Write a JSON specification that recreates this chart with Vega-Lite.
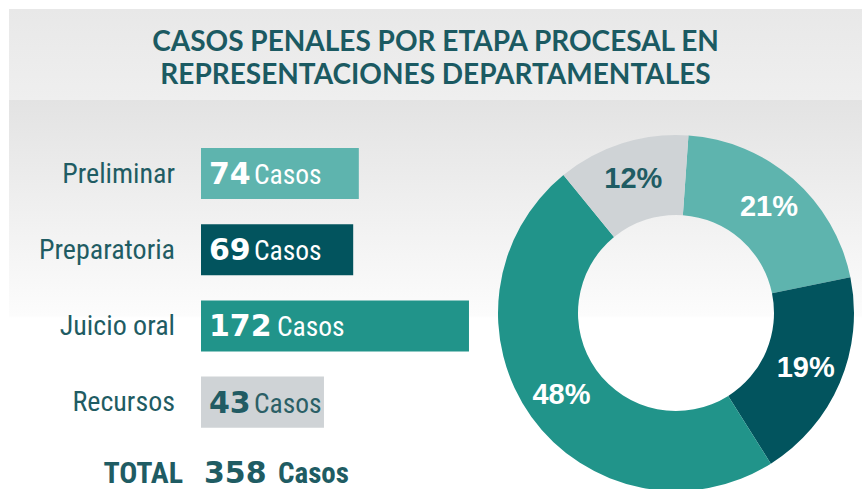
{
  "$schema": "https://vega.github.io/schema/vega-lite/v6.json",
  "padding": {"left": 9, "top": 9, "right": 0, "bottom": 0},
  "background": "white",
  "spacing": 0,
  "config": {"view": {"stroke": null}, "concat": {"spacing": 0}},
  "datasets": {
    "etapas": [
      {"etapa": "Preliminar", "casos": 74, "porcentaje": 0.21, "orden": 1},
      {"etapa": "Preparatoria", "casos": 69, "porcentaje": 0.19, "orden": 2},
      {"etapa": "Juicio oral", "casos": 172, "porcentaje": 0.48, "orden": 3},
      {"etapa": "Recursos", "casos": 43, "porcentaje": 0.12, "orden": 4}
    ],
    "total": [{"etiqueta": "TOTAL", "casos": 358}],
    "titulo": [
      {"linea": 1, "texto": "CASOS PENALES POR ETAPA PROCESAL EN"},
      {"linea": 2, "texto": "REPRESENTACIONES DEPARTAMENTALES"}
    ]
  },
  "vconcat": [
    {
      "width": 853,
      "height": 91,
      "view": {"stroke": null, "fill": {"gradient": "linear", "x1": 0, "y1": 0, "x2": 0, "y2": 1, "stops": [{"offset": 0, "color": "#e8e8e8"}, {"offset": 1, "color": "#efefef"}]}},
      "data": {"name": "titulo"},
      "mark": {"type": "text", "font": "Lato", "fontWeight": "bold", "fontSize": 28, "color": "#1b5a62", "baseline": "alphabetic", "dy": 13},
      "encoding": {
        "y": {"field": "linea", "type": "ordinal", "scale": {"type": "point", "padding": 0.879}, "axis": null},
        "text": {"field": "texto"}
      }
    },
    {
      "spacing": 0,
      "hconcat": [
        {
          "width": 192,
          "height": 389,
          "view": {"stroke": null, "fill": {"gradient": "linear", "x1": 0, "y1": 0, "x2": 0, "y2": 1, "stops": [{"offset": 0, "color": "#e3e3e3"}, {"offset": 0.555, "color": "#fcfcfc"}, {"offset": 0.56, "color": "#ffffff"}, {"offset": 1, "color": "#ffffff"}]}},
          "layer": [
            {
              "data": {"name": "etapas"},
              "mark": {"type": "text", "align": "right", "baseline": "alphabetic", "dx": -26, "dy": 9, "font": "Roboto Condensed", "fontSize": 28, "color": "#1f5c63"},
              "encoding": {
                "y": {"field": "etapa", "type": "nominal", "sort": ["Preliminar", "Preparatoria", "Juicio oral", "Recursos"], "scale": {"type": "band", "paddingInner": 0.33, "paddingOuter": 0.7175, "align": 0.439}, "axis": null},
                "x": {"value": "width"},
                "text": {"field": "etapa"}
              }
            },
            {
              "data": {"name": "total"},
              "mark": {"type": "text", "align": "right", "baseline": "alphabetic", "dx": -18, "dy": -6, "font": "Roboto Condensed", "fontWeight": "bold", "fontSize": 30, "color": "#1f5c63"},
              "encoding": {
                "x": {"value": "width"},
                "y": {"value": "height"},
                "text": {"field": "etiqueta"}
              }
            }
          ]
        },
        {
          "width": 289,
          "height": 389,
          "view": {"stroke": null, "fill": {"gradient": "linear", "x1": 0, "y1": 0, "x2": 0, "y2": 1, "stops": [{"offset": 0, "color": "#e3e3e3"}, {"offset": 0.555, "color": "#fcfcfc"}, {"offset": 0.56, "color": "#ffffff"}, {"offset": 1, "color": "#ffffff"}]}},
          "layer": [
            {
              "data": {"name": "etapas"},
              "mark": {"type": "bar"},
              "encoding": {
                "y": {"field": "etapa", "type": "nominal", "sort": ["Preliminar", "Preparatoria", "Juicio oral", "Recursos"], "scale": {"type": "band", "paddingInner": 0.33, "paddingOuter": 0.7175, "align": 0.439}, "axis": null},
                "x": {"field": "casos", "type": "quantitative", "stack": null, "scale": {"domain": [-66.4, 190.7], "zero": false, "nice": false}, "axis": null},
                "x2": {"value": 0},
                "color": {"field": "etapa", "type": "nominal", "scale": {"domain": ["Preliminar", "Preparatoria", "Juicio oral", "Recursos"], "range": ["#5eb4ae", "#02545e", "#21948a", "#cfd3d6"]}, "legend": null}
              }
            },
            {
              "data": {"name": "etapas"},
              "mark": {"type": "text", "align": "left", "baseline": "alphabetic", "dx": 8, "dy": 10.5, "font": "DejaVu Sans", "fontWeight": "bold", "fontSize": 30},
              "encoding": {
                "y": {"field": "etapa", "type": "nominal", "sort": ["Preliminar", "Preparatoria", "Juicio oral", "Recursos"], "scale": {"type": "band", "paddingInner": 0.33, "paddingOuter": 0.7175, "align": 0.439}, "axis": null},
                "x": {"value": 0},
                "text": {"field": "casos"},
                "color": {"condition": {"test": "datum.etapa === 'Recursos'", "value": "#215b63"}, "value": "#ffffff"}
              }
            },
            {
              "data": {"name": "etapas"},
              "transform": [{"filter": "datum.casos < 100"}],
              "mark": {"type": "text", "align": "left", "baseline": "alphabetic", "dx": 53, "dy": 10.5, "font": "Roboto Condensed", "fontSize": 27.5},
              "encoding": {
                "y": {"field": "etapa", "type": "nominal", "sort": ["Preliminar", "Preparatoria", "Juicio oral", "Recursos"], "scale": {"type": "band", "paddingInner": 0.33, "paddingOuter": 0.7175, "align": 0.439}, "axis": null},
                "x": {"value": 0},
                "text": {"value": "Casos"},
                "color": {"condition": {"test": "datum.etapa === 'Recursos'", "value": "#2b5f66"}, "value": "#ffffff"}
              }
            },
            {
              "data": {"name": "etapas"},
              "transform": [{"filter": "datum.casos >= 100"}],
              "mark": {"type": "text", "align": "left", "baseline": "alphabetic", "dx": 76, "dy": 10.5, "font": "Roboto Condensed", "fontSize": 27.5},
              "encoding": {
                "y": {"field": "etapa", "type": "nominal", "sort": ["Preliminar", "Preparatoria", "Juicio oral", "Recursos"], "scale": {"type": "band", "paddingInner": 0.33, "paddingOuter": 0.7175, "align": 0.439}, "axis": null},
                "x": {"value": 0},
                "text": {"value": "Casos"},
                "color": {"value": "#ffffff"}
              }
            },
            {
              "data": {"name": "total"},
              "mark": {"type": "text", "align": "left", "baseline": "alphabetic", "dx": 3, "dy": -6, "font": "DejaVu Sans", "fontWeight": "bold", "fontSize": 30, "color": "#1f5c63"},
              "encoding": {
                "x": {"value": 0},
                "y": {"value": "height"},
                "text": {"field": "casos"}
              }
            },
            {
              "data": {"name": "total"},
              "mark": {"type": "text", "align": "left", "baseline": "alphabetic", "dx": 77, "dy": -6, "font": "Roboto Condensed", "fontWeight": "bold", "fontSize": 29, "color": "#1f5c63"},
              "encoding": {
                "x": {"value": 0},
                "y": {"value": "height"},
                "text": {"value": "Casos"}
              }
            }
          ]
        },
        {
          "width": 372,
          "height": 389,
          "view": {"stroke": null, "fill": {"gradient": "linear", "x1": 0, "y1": 0, "x2": 0, "y2": 1, "stops": [{"offset": 0, "color": "#e3e3e3"}, {"offset": 0.555, "color": "#fcfcfc"}, {"offset": 0.56, "color": "#ffffff"}, {"offset": 1, "color": "#ffffff"}]}},
          "data": {"name": "etapas"},
          "encoding": {
            "theta": {"field": "casos", "type": "quantitative", "stack": true, "scale": {"range": [0.07, 6.3532]}},
            "order": {"field": "orden", "type": "quantitative"}
          },
          "layer": [
            {
              "mark": {"type": "arc", "outerRadius": 178, "innerRadius": 98, "yOffset": 18.5, "clip": true},
              "encoding": {
                "color": {"field": "etapa", "type": "nominal", "scale": {"domain": ["Preliminar", "Preparatoria", "Juicio oral", "Recursos"], "range": ["#5eb4ae", "#02545e", "#21948a", "#cfd3d6"]}, "legend": null}
              }
            },
            {
              "mark": {"type": "text", "radius": 141, "yOffset": 18.5, "align": "center", "baseline": "middle", "font": "Liberation Sans", "fontWeight": "bold", "fontSize": 29},
              "encoding": {
                "text": {"field": "porcentaje", "type": "quantitative", "format": ".0%"},
                "color": {"condition": {"test": "datum.etapa === 'Recursos'", "value": "#1f5c63"}, "value": "#ffffff"}
              }
            }
          ]
        }
      ]
    }
  ]
}
